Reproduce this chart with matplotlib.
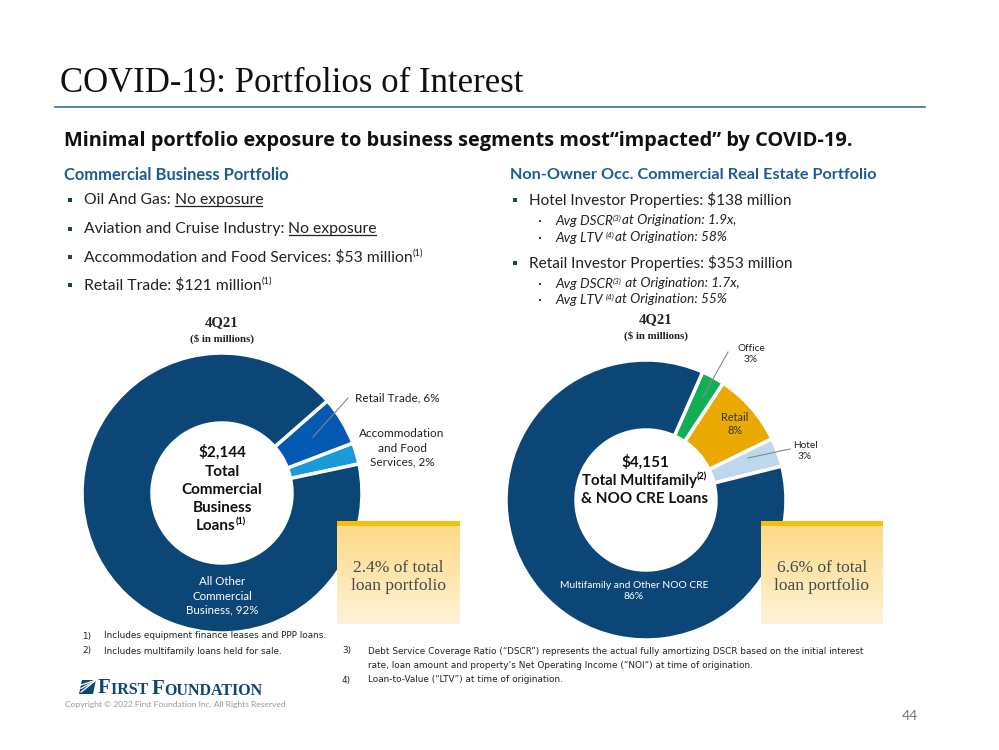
import numpy as np
import matplotlib
matplotlib.use("Agg")
import matplotlib.pyplot as plt
from matplotlib.patches import Rectangle, Polygon

## data (4Q21, $ in millions)
cb_labels = ["Accommodation and Food Services", "Retail Trade", "All Other Commercial Business"]
cb_values = [53, 121, 1970]          # total 2,144
cb_colors = ["#1A9AD9", "#0459B3", "#0B4677"]

cre_labels = ["Hotel", "Retail", "Office", "Multifamily and Other NOO CRE"]
cre_values = [138, 353, 110, 3550]   # total 4,151
cre_colors = ["#BDD7EE", "#E9A900", "#12AE55", "#0B4677"]

W, H = 999, 750
NAVY = "#0B4677"
HEAD = "#1B5C96"
SANS = ["Lato", "DejaVu Sans"]
SERIF = ["Liberation Serif", "DejaVu Serif"]
NARROW = ["Liberation Sans Narrow", "DejaVu Sans"]

fig = plt.figure(figsize=(W / 100, H / 100), dpi=100)
ax = fig.add_axes([0, 0, 1, 1])


def Y(y):
    # pixel row (top-down) -> data y
    return H - y


def txt(x, y, s, **kw):
    kw.setdefault("family", SANS)
    return ax.text(x, Y(y), s, **kw)


## donuts
def donut(values, colors, center, radius, start):
    ax.pie(values, colors=colors, center=(center[0], Y(center[1])), radius=radius,
           startangle=start, counterclock=True, frame=True,
           wedgeprops=dict(width=radius * 0.5, edgecolor="white", linewidth=2.5))


donut(cb_values, cb_colors, (222, 493), 140, 12)
donut(cre_values, cre_colors, (646, 500), 140, 14)

# fix the pixel frame before measuring any text
ax.set_xlim(0, W)
ax.set_ylim(0, H)
ax.set_aspect("auto")
ax.axis("off")

## title & header
txt(60, 92, "COVID-19: Portfolios of Interest", family=SERIF, fontsize=25, color="#111111", va="baseline")
ax.plot([55, 925], [Y(107), Y(107)], color="#4A7BA6", lw=1.3)
txt(64, 141, "Minimal portfolio exposure to business segments most\u201cimpacted\u201d by COVID-19.",
    fontsize=14.4, fontweight="bold", family=["Open Sans", "DejaVu Sans"], va="center", color="#111111")

txt(64, 175, "Commercial Business Portfolio", fontsize=11.9, fontweight="bold", color=HEAD, va="center")
txt(510, 175, "Non-Owner Occ. Commercial Real Estate Portfolio", fontsize=11.7, fontweight="bold",
    color=HEAD, va="center")

fig.canvas.draw()
renderer = fig.canvas.get_renderer()
inv = ax.transData.inverted()

FS = 11.3


def bullet(x, y, size=3.2):
    ax.add_patch(Rectangle((x - size / 2, Y(y) - size / 2), size, size, color="#1F3F66", lw=0))


def under_pair(x, y, a, b, fs=FS):
    t1 = txt(x, y, a, fontsize=fs, va="center", color="#222222")
    t2 = ax.annotate(b, xy=(1, 0.5), xycoords=t1, va="center", ha="left",
                     fontsize=fs, family=SANS, color="#222222")
    fig.canvas.draw()
    bb = t2.get_window_extent(renderer)
    (x0, y0), (x1, _) = inv.transform([(bb.x0, bb.y0), (bb.x1, bb.y1)])
    ax.plot([x0, x1 - 1], [y0 + 1.5, y0 + 1.5], color="#222222", lw=0.9)


def sup_pair(x, y, a, s, fs=FS, color="#222222"):
    t1 = txt(x, y, a, fontsize=fs, va="center", color=color)
    ax.annotate(s, xy=(1, 0.75), xycoords=t1, va="center", ha="left",
                fontsize=fs * 0.6, family=SANS, color=color)
    return t1


# left bullets
for yy in [200, 229, 257, 285]:
    bullet(70, yy)
under_pair(84, 200, "Oil And Gas: ", "No exposure")
under_pair(84, 229, "Aviation and Cruise Industry: ", "No exposure")
sup_pair(84, 257, "Accommodation and Food Services: $53 million", "(1)")
sup_pair(84, 285, "Retail Trade: $121 million", "(1)")

# right bullets
bullet(515, 200)
bullet(515, 263)
txt(529, 200, "Hotel Investor Properties: $138 million", fontsize=11.1, va="center", color="#222222")
txt(529, 263, "Retail Investor Properties: $353 million", fontsize=11.1, va="center", color="#222222")
for yy, a, s, b in [(221, "Avg DSCR", "(3)", "at Origination: 1.9x,"),
                    (238, "Avg LTV ", "(4)", "at Origination: 58%"),
                    (284, "Avg DSCR", "(3)", " at Origination: 1.7x,"),
                    (300, "Avg LTV ", "(4)", "at Origination: 55%")]:
    bullet(540, yy, 2.6)
    t1 = txt(555, yy, a, fontsize=9.8, style="italic", va="center", color="#222222")
    t2 = ax.annotate(s, xy=(1, 0.75), xycoords=t1, va="center", ha="left",
                     fontsize=5.8, family=SANS, style="italic", color="#222222")
    ax.annotate(b, xy=(1, 0.25), xycoords=t2, va="center", ha="left",
                fontsize=9.8, family=SANS, style="italic", color="#222222")

## chart headers
for cx, y0 in [(222, 323), (656, 320)]:
    txt(cx, y0, "4Q21", family=SERIF, fontweight="bold", fontsize=10.5, ha="center", va="center", color="#222222")
    txt(cx, y0 + 16, "($ in millions)", family=SERIF, fontweight="bold", fontsize=7.8, ha="center",
        va="center", color="#222222")

## centre labels
for yy, s in [(452, "$2,144"), (472, "Total"), (490, "Commercial"), (508, "Business")]:
    txt(222, yy, s, fontsize=11, fontweight="bold", ha="center", va="center", color="#111111")
t = txt(216, 526, "Loans", fontsize=11, fontweight="bold", ha="center", va="center", color="#111111")
ax.annotate("(1)", xy=(1, 0.8), xycoords=t, fontsize=6.5, fontweight="bold", family=SANS, va="center")

txt(645, 462, "$4,151", fontsize=11, fontweight="bold", ha="center", va="center", color="#111111")
t = txt(639, 481, "Total Multifamily", fontsize=10.8, fontweight="bold", ha="center", va="center", color="#111111")
ax.annotate("(2)", xy=(1, 0.8), xycoords=t, fontsize=6.5, fontweight="bold", family=SANS, va="center")
txt(645, 499, "& NOO CRE Loans", fontsize=11, fontweight="bold", ha="center", va="center", color="#111111")

## slice labels
lc = "#888888"
ax.plot([313, 348], [Y(437), Y(398)], color=lc, lw=0.8)
txt(355, 398, "Retail Trade, 6%", fontsize=8.5, va="center", color="#222222")
txt(402, 448, "Accommodation\nand Food\nServices, 2%", fontsize=8.5, ha="center", va="center",
    color="#222222", linespacing=1.35)
txt(222, 596, "All Other\nCommercial\nBusiness, 92%", fontsize=8.3, ha="center", va="center",
    color="white", linespacing=1.35)

ax.plot([703, 728], [Y(397), Y(352)], color=lc, lw=0.8)
txt(751, 354, "Office\n3%", fontsize=7.3, ha="center", va="center", color="#222222", linespacing=1.3)
txt(735, 424, "Retail\n8%", fontsize=7.8, ha="center", va="center", color="#333333", linespacing=1.3)
ax.plot([748, 790], [Y(458), Y(449)], color=lc, lw=0.8)
txt(805, 451, "Hotel\n3%", fontsize=7.3, ha="center", va="center", color="#222222", linespacing=1.3)
txt(634, 591, "Multifamily and Other NOO CRE\n86%", fontsize=7.4, ha="center", va="center",
    color="white", linespacing=1.4)

## callout boxes
grad = np.linspace(0, 1, 100)[:, None]
cmap = matplotlib.colors.LinearSegmentedColormap.from_list("g", ["#FDDA86", "#FFF2D8"])
for x0, x1, s in [(337, 460, "2.4% of total\nloan portfolio"), (761, 883, "6.6% of total\nloan portfolio")]:
    ax.imshow(grad, extent=(x0, x1, Y(624), Y(526)), cmap=cmap, aspect="auto", zorder=3)
    ax.add_patch(Rectangle((x0, Y(526)), x1 - x0, 5.5, color="#F5BF12", lw=0, zorder=4))
    txt((x0 + x1) / 2, 577, s, family=SERIF, fontsize=12.5, ha="center", va="center",
        color="#4A4A4A", linespacing=1.15, zorder=5)

## footnotes
fn = dict(fontsize=6.4, family=NARROW, color="#222222", va="center")
txt(82, 636, "1)", **fn)
txt(104, 636, "Includes equipment finance leases and PPP loans.", **fn)
txt(82, 651, "2)", **fn)
txt(104, 651, "Includes multifamily loans held for sale.", **fn)
txt(342, 651, "3)", **fn)
txt(368, 651, "Debt Service Coverage Ratio (\u201cDSCR\u201d) represents the actual fully amortizing DSCR based on the initial interest", **fn)
txt(368, 665, "rate, loan amount and property\u2019s Net Operating Income (\u201cNOI\u201d) at time of origination.", **fn)
txt(342, 680, "4)", **fn)
txt(368, 680, "Loan-to-Value (\u201cLTV\u201d) at time of origination.", **fn)

## logo & footer
ax.add_patch(Polygon([(79, Y(694)), (93, Y(694)), (96, Y(680)), (82, Y(680))], closed=True, color=NAVY, lw=0))
for i in range(3):
    ax.plot([81, 95], [Y(692 - i * 3.5), Y(681 - i * 0.3)], color="white", lw=0.9)
t = txt(98, 688, "F", family=SERIF, fontsize=15, fontweight="bold", color=NAVY, va="center")
t = ax.annotate("IRST ", xy=(1, 0.38), xycoords=t, fontsize=11.5, family=SERIF, fontweight="bold", color=NAVY, va="center")
t = ax.annotate("F", xy=(1, 0.6), xycoords=t, fontsize=15, family=SERIF, fontweight="bold", color=NAVY, va="center")
ax.annotate("OUNDATION", xy=(1, 0.38), xycoords=t, fontsize=11.5, family=SERIF, fontweight="bold", color=NAVY, va="center")
txt(65, 705, "Copyright \u00a9 2022 First Foundation Inc. All Rights Reserved", fontsize=6.1, color="#999999", va="center")
txt(918, 716, "44", fontsize=10, color="#777777", ha="right", va="center")

fig.savefig("out.png", dpi=100, facecolor="white")
